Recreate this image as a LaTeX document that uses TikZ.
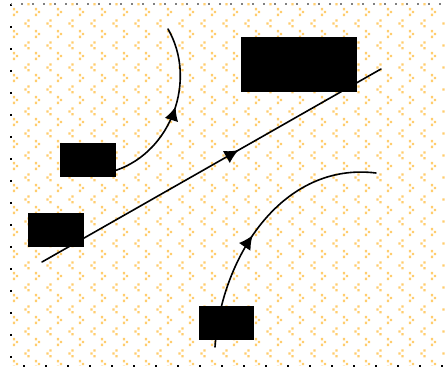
\documentclass[tikz,border=0pt]{standalone}
\usepackage{tikz}
\usetikzlibrary{arrows.meta, decorations.markings, patterns}
\definecolor{dotorange}{RGB}{255,205,110}
\pgfdeclarepatternformonly{chevdots}{\pgfqpoint{0pt}{0pt}}{\pgfqpoint{22pt}{22pt}}{\pgfqpoint{22pt}{22pt}}{%
  \pgfpathrectangle{\pgfqpoint{5.5pt}{18pt}}{\pgfqpoint{2.4pt}{2.4pt}}%
  \pgfpathrectangle{\pgfqpoint{2.5pt}{15pt}}{\pgfqpoint{2.4pt}{2.4pt}}%
  \pgfpathrectangle{\pgfqpoint{5.5pt}{12pt}}{\pgfqpoint{2.4pt}{2.4pt}}%
  \pgfpathrectangle{\pgfqpoint{13.5pt}{7pt}}{\pgfqpoint{2.4pt}{2.4pt}}%
  \pgfpathrectangle{\pgfqpoint{16.5pt}{4pt}}{\pgfqpoint{2.4pt}{2.4pt}}%
  \pgfpathrectangle{\pgfqpoint{13.5pt}{1pt}}{\pgfqpoint{2.4pt}{2.4pt}}%
  \pgfusepath{fill}}
\tikzstyle{labelbox} = [rectangle, fill=black, inner sep=0pt]
\tikzstyle{vecline} = [line width=1.6pt, line cap=round]
\tikzset{midarrow/.style={postaction={decorate}, decoration={markings, mark=at position #1 with {\arrow{Latex[length=14pt,width=14pt]}}}}}

\begin{document}
\begin{tikzpicture}[x=1pt, y=1pt]

\useasboundingbox (0,0) rectangle (445,369);
\fill[pattern=chevdots, pattern color=dotorange] (11,3) rectangle (445,365);
\draw[line width=1.5pt, dash pattern=on 2pt off 20pt] (11,365) -- (11,3);
\draw[line width=1.5pt, dash pattern=on 2pt off 20pt, dash phase=10pt] (11,3) -- (445,3);
\draw[line width=1.2pt, gray, dash pattern=on 2pt off 9pt, dash phase=1pt] (11,365) -- (445,365);

\node (omega) [labelbox, minimum width=116pt, minimum height=55pt] at (299,304.5) {};
\node (ra)    [labelbox, minimum width=56pt, minimum height=34pt] at (88,209) {};
\node (rb)    [labelbox, minimum width=56pt, minimum height=34pt] at (56,139) {};
\node (rc)    [labelbox, minimum width=55pt, minimum height=34pt] at (226.5,46) {};

\coordinate (l0) at (42,107);
\coordinate (l1) at (381,300);
\coordinate (a1) at (168,340);
\coordinate (c0) at (215,22);
\coordinate (c1) at (376,196);

\draw[vecline, midarrow=0.58] (l0) -- (l1);
\draw[vecline, midarrow=0.53] (ra.-20) to[out=19, in=-60] (a1);
\draw[vecline, midarrow=0.45] (c0) to[out=86, in=173] (c1);

\end{tikzpicture}
\end{document}
